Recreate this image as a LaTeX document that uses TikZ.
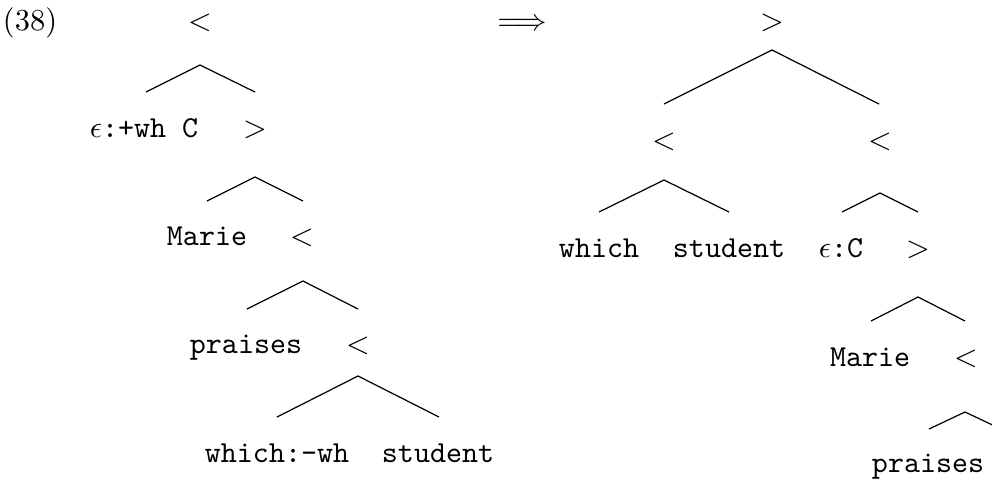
\documentclass[tikz,border=0pt]{standalone}
\begin{document}
\begin{tikzpicture}[x=0.328pt,y=-0.328pt,
  lab/.style={anchor=base,inner sep=0pt,outer sep=0pt},
  br/.style={line width=0.4pt,black}]
\useasboundingbox (0,0) rectangle (992,482);
\clip (0,0) rectangle (992,482);
% labels
\node[lab,anchor=base west] (ex) at (3,30) {(38)};
\node[lab] (arr) at (522,30) {$\Longrightarrow$};
% left tree
\node[lab] (L0) at (200,30) {$<$};
\node[lab] (L1a) at (144,137) {$\epsilon$\texttt{:+wh C}};
\node[lab] (L1b) at (255,137) {$>$};
\node[lab] (L2a) at (207,245) {\texttt{Marie}};
\node[lab] (L2b) at (302,245) {$<$};
\node[lab] (L3a) at (246,353) {\texttt{praises}};
\node[lab] (L3b) at (358,353) {$<$};
\node[lab] (L4a) at (277,462) {\texttt{which:-wh}};
\node[lab] (L4b) at (438,462) {\texttt{student}};
\coordinate (l0) at (200,65);  \coordinate (l0a) at (146,92);  \coordinate (l0b) at (255,92);
\coordinate (l1) at (255,177); \coordinate (l1a) at (207,201); \coordinate (l1b) at (303,201);
\coordinate (l2) at (303,281); \coordinate (l2a) at (247,309); \coordinate (l2b) at (358,309);
\coordinate (l3) at (358,376); \coordinate (l3a) at (277,417); \coordinate (l3b) at (439,417);
\draw[br] (l0a) -- (l0) -- (l0b);
\draw[br] (l1a) -- (l1) -- (l1b);
\draw[br] (l2a) -- (l2) -- (l2b);
\draw[br] (l3a) -- (l3) -- (l3b);
% right tree
\node[lab] (R0) at (772,30) {$>$};
\node[lab] (R1a) at (664,149) {$<$};
\node[lab] (R1b) at (880,149) {$<$};
\node[lab] (R2a) at (599,257) {\texttt{which}};
\node[lab] (R2b) at (729,257) {\texttt{student}};
\node[lab] (R2c) at (841,257) {$\epsilon$\texttt{:C}};
\node[lab] (R2d) at (918,257) {$>$};
\node[lab] (R3a) at (870,366) {\texttt{Marie}};
\node[lab] (R3b) at (966,366) {$<$};
\node[lab] (R4a) at (928,472) {\texttt{praises}};
\coordinate (r0) at (772,50);  \coordinate (r0a) at (664,104); \coordinate (r0b) at (879,104);
\coordinate (r1) at (664,180); \coordinate (r1a) at (599,212); \coordinate (r1b) at (729,212);
\coordinate (r2) at (880,193); \coordinate (r2a) at (842,212); \coordinate (r2b) at (918,212);
\coordinate (r3) at (918,297); \coordinate (r3a) at (871,321); \coordinate (r3b) at (965,321);
\coordinate (r4) at (965,412); \coordinate (r4a) at (929,429); \coordinate (r4b) at (1001,429);
\draw[br] (r0a) -- (r0) -- (r0b);
\draw[br] (r1a) -- (r1) -- (r1b);
\draw[br] (r2a) -- (r2) -- (r2b);
\draw[br] (r3a) -- (r3) -- (r3b);
\draw[br] (r4a) -- (r4) -- (r4b);
\end{tikzpicture}
\end{document}
